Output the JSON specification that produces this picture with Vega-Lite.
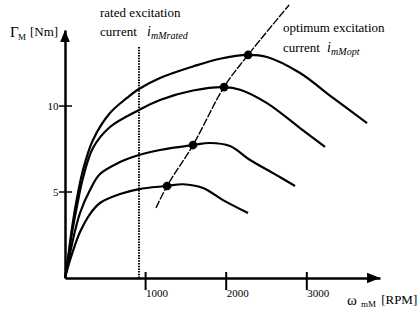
{
  "$schema": "https://vega.github.io/schema/vega-lite/v6.json",
  "width": 315,
  "height": 248,
  "autosize": {"type": "none"},
  "padding": {"left": 65, "top": 30, "right": 38, "bottom": 34},
  "config": {"view": {"stroke": null}, "font": "Liberation Serif"},
  "datasets": {
    "curves": [
      {"curve": "a", "rpm": 0, "torque": 0}, {"curve": "a", "rpm": 37, "torque": 1.16}, {"curve": "a", "rpm": 87, "torque": 2.91}, {"curve": "a", "rpm": 149, "torque": 4.65}, {"curve": "a", "rpm": 223, "torque": 6.28}, {"curve": "a", "rpm": 347, "torque": 8.02}, {"curve": "a", "rpm": 558, "torque": 9.59}, {"curve": "a", "rpm": 769, "torque": 10.47}, {"curve": "a", "rpm": 918, "torque": 10.99}, {"curve": "a", "rpm": 1179, "torque": 11.63}, {"curve": "a", "rpm": 1588, "torque": 12.3}, {"curve": "a", "rpm": 1923, "torque": 12.75}, {"curve": "a", "rpm": 2271, "torque": 12.97}, {"curve": "a", "rpm": 2506, "torque": 12.85}, {"curve": "a", "rpm": 2916, "torque": 11.92}, {"curve": "a", "rpm": 3325, "torque": 10.47}, {"curve": "a", "rpm": 3747, "torque": 9.01},
      {"curve": "b", "rpm": 0, "torque": 0}, {"curve": "b", "rpm": 37, "torque": 1.05}, {"curve": "b", "rpm": 87, "torque": 2.62}, {"curve": "b", "rpm": 149, "torque": 4.19}, {"curve": "b", "rpm": 223, "torque": 5.81}, {"curve": "b", "rpm": 347, "torque": 7.56}, {"curve": "b", "rpm": 558, "torque": 8.78}, {"curve": "b", "rpm": 918, "torque": 9.77}, {"curve": "b", "rpm": 1179, "torque": 10.35}, {"curve": "b", "rpm": 1588, "torque": 10.9}, {"curve": "b", "rpm": 1973, "torque": 11.1}, {"curve": "b", "rpm": 2172, "torque": 10.95}, {"curve": "b", "rpm": 2506, "torque": 10.17}, {"curve": "b", "rpm": 2916, "torque": 8.72}, {"curve": "b", "rpm": 3226, "torque": 7.62},
      {"curve": "c", "rpm": 0, "torque": 0}, {"curve": "c", "rpm": 37, "torque": 0.81}, {"curve": "c", "rpm": 87, "torque": 1.98}, {"curve": "c", "rpm": 186, "torque": 3.78}, {"curve": "c", "rpm": 310, "torque": 5.12}, {"curve": "c", "rpm": 434, "torque": 6.05}, {"curve": "c", "rpm": 683, "torque": 6.74}, {"curve": "c", "rpm": 918, "torque": 7.15}, {"curve": "c", "rpm": 1179, "torque": 7.44}, {"curve": "c", "rpm": 1588, "torque": 7.73}, {"curve": "c", "rpm": 1799, "torque": 7.85}, {"curve": "c", "rpm": 2047, "torque": 7.67}, {"curve": "c", "rpm": 2296, "torque": 6.86}, {"curve": "c", "rpm": 2581, "torque": 6.1}, {"curve": "c", "rpm": 2854, "torque": 5.35},
      {"curve": "d", "rpm": 0, "torque": 0}, {"curve": "d", "rpm": 37, "torque": 0.64}, {"curve": "d", "rpm": 87, "torque": 1.4}, {"curve": "d", "rpm": 186, "torque": 2.67}, {"curve": "d", "rpm": 310, "torque": 3.72}, {"curve": "d", "rpm": 434, "torque": 4.36}, {"curve": "d", "rpm": 683, "torque": 4.88}, {"curve": "d", "rpm": 918, "torque": 5.17}, {"curve": "d", "rpm": 1266, "torque": 5.35}, {"curve": "d", "rpm": 1464, "torque": 5.45}, {"curve": "d", "rpm": 1712, "torque": 5.23}, {"curve": "d", "rpm": 1960, "torque": 4.53}, {"curve": "d", "rpm": 2271, "torque": 3.78}
    ],
    "optimum": [
      {"rpm": 1129, "torque": 4.07}, {"rpm": 1266, "torque": 5.35}, {"rpm": 1588, "torque": 7.73}, {"rpm": 1973, "torque": 11.1}, {"rpm": 2271, "torque": 12.97}, {"rpm": 2780, "torque": 15.87}
    ],
    "markers": [
      {"rpm": 2271, "torque": 12.97}, {"rpm": 1973, "torque": 11.1}, {"rpm": 1588, "torque": 7.73}, {"rpm": 1266, "torque": 5.35}
    ],
    "rated": [{"rpm": 918, "torque": 0, "torque2": 13.49}],
    "xticks": [
      {"rpm": 1000, "torque": -0.7, "torque2": 0.35}, {"rpm": 2000, "torque": -0.7, "torque2": 0.35}, {"rpm": 3000, "torque": -0.7, "torque2": 0.35}
    ],
    "yticks": [
      {"rpm": -74, "rpm2": 87, "torque": 5}, {"rpm": -74, "rpm2": 87, "torque": 10}
    ],
    "yarrow": [{"rpm": 0, "torque": 14.07}],
    "xarrow": [{"rpm": 3828, "torque": 0}],
    "labels": [
      {"text": "rated excitation", "rpm": 434, "torque": 15.41},
      {"text": "current", "rpm": 434, "torque": 14.3},
      {"text": "optimum excitation", "rpm": 2705, "torque": 14.53},
      {"text": "current", "rpm": 2705, "torque": 13.37},
      {"text": "[Nm]", "rpm": -434, "torque": 14.3},
      {"text": "[RPM]", "rpm": 3922, "torque": -1.28}
    ],
    "symbols": [
      {"text": "Γ", "rpm": -683, "torque": 14.3},
      {"text": "ω", "rpm": 3500, "torque": -1.28}
    ],
    "symsub": [
      {"text": "M", "rpm": -583, "torque": 14.0},
      {"text": "mM", "rpm": 3673, "torque": -1.51}
    ],
    "ivar": [
      {"text": "i", "rpm": 1018, "torque": 14.3},
      {"text": "i", "rpm": 3251, "torque": 13.37}
    ],
    "ivarsub": [
      {"text": "mMrated", "rpm": 1067, "torque": 14.05},
      {"text": "mMopt", "rpm": 3301, "torque": 13.12}
    ]
  },
  "encoding": {
    "x": {
      "field": "rpm", "type": "quantitative",
      "scale": {"domain": [0, 3908], "nice": false, "zero": false},
      "axis": {"title": null, "values": [1000, 2000, 3000], "format": "d", "ticks": false, "grid": false, "domainWidth": 2.5, "domainColor": "black", "labelAlign": "left", "labelDx": 2, "labelPadding": 9, "labelFontSize": 11, "labelColor": "black", "labelFont": "Liberation Serif"}
    },
    "y": {
      "field": "torque", "type": "quantitative",
      "scale": {"domain": [0, 14.42], "nice": false},
      "axis": {"title": null, "values": [5, 10], "format": "d", "ticks": false, "grid": false, "domainWidth": 2.5, "domainColor": "black", "labelPadding": 7, "labelDy": 3, "labelFontSize": 11, "labelColor": "black", "labelFont": "Liberation Serif"}
    }
  },
  "layer": [
    {"data": {"name": "curves"}, "mark": {"type": "line", "interpolate": "catmull-rom", "color": "black", "strokeWidth": 2.2}, "encoding": {"detail": {"field": "curve"}}},
    {"data": {"name": "optimum"}, "mark": {"type": "line", "color": "black", "strokeWidth": 1.4, "strokeDash": [8, 1.5], "interpolate": "catmull-rom"}, "encoding": {}},
    {"data": {"name": "rated"}, "mark": {"type": "rule", "color": "black", "strokeWidth": 2, "strokeDash": [1.5, 1.2]}, "encoding": {"y2": {"field": "torque2"}}},
    {"data": {"name": "xticks"}, "mark": {"type": "rule", "color": "black", "strokeWidth": 2}, "encoding": {"y2": {"field": "torque2"}}},
    {"data": {"name": "yticks"}, "mark": {"type": "rule", "color": "black", "strokeWidth": 1.5}, "encoding": {"x2": {"field": "rpm2"}}},
    {"data": {"name": "markers"}, "mark": {"type": "point", "filled": true, "color": "black", "opacity": 1, "size": 75}},
    {"data": {"name": "yarrow"}, "mark": {"type": "point", "filled": true, "color": "black", "opacity": 1, "size": 144, "shape": "M-0.8,1L0,-1L0.8,1Z"}},
    {"data": {"name": "xarrow"}, "mark": {"type": "point", "filled": true, "color": "black", "opacity": 1, "size": 169, "shape": "M-1,-0.8L1,0L-1,0.8Z"}},
    {"data": {"name": "labels"}, "mark": {"type": "text", "align": "left", "baseline": "middle", "fontSize": 13, "font": "Liberation Serif", "color": "black"}, "encoding": {"text": {"field": "text"}}},
    {"data": {"name": "symbols"}, "mark": {"type": "text", "align": "left", "baseline": "middle", "fontSize": 15, "font": "Liberation Serif", "color": "black"}, "encoding": {"text": {"field": "text"}}},
    {"data": {"name": "symsub"}, "mark": {"type": "text", "align": "left", "baseline": "middle", "fontSize": 9, "font": "Liberation Serif", "color": "black"}, "encoding": {"text": {"field": "text"}}},
    {"data": {"name": "ivar"}, "mark": {"type": "text", "align": "left", "baseline": "middle", "fontSize": 14, "fontStyle": "italic", "font": "Liberation Serif", "color": "black"}, "encoding": {"text": {"field": "text"}}},
    {"data": {"name": "ivarsub"}, "mark": {"type": "text", "align": "left", "baseline": "middle", "fontSize": 10, "fontStyle": "italic", "font": "Liberation Serif", "color": "black"}, "encoding": {"text": {"field": "text"}}}
  ]
}
